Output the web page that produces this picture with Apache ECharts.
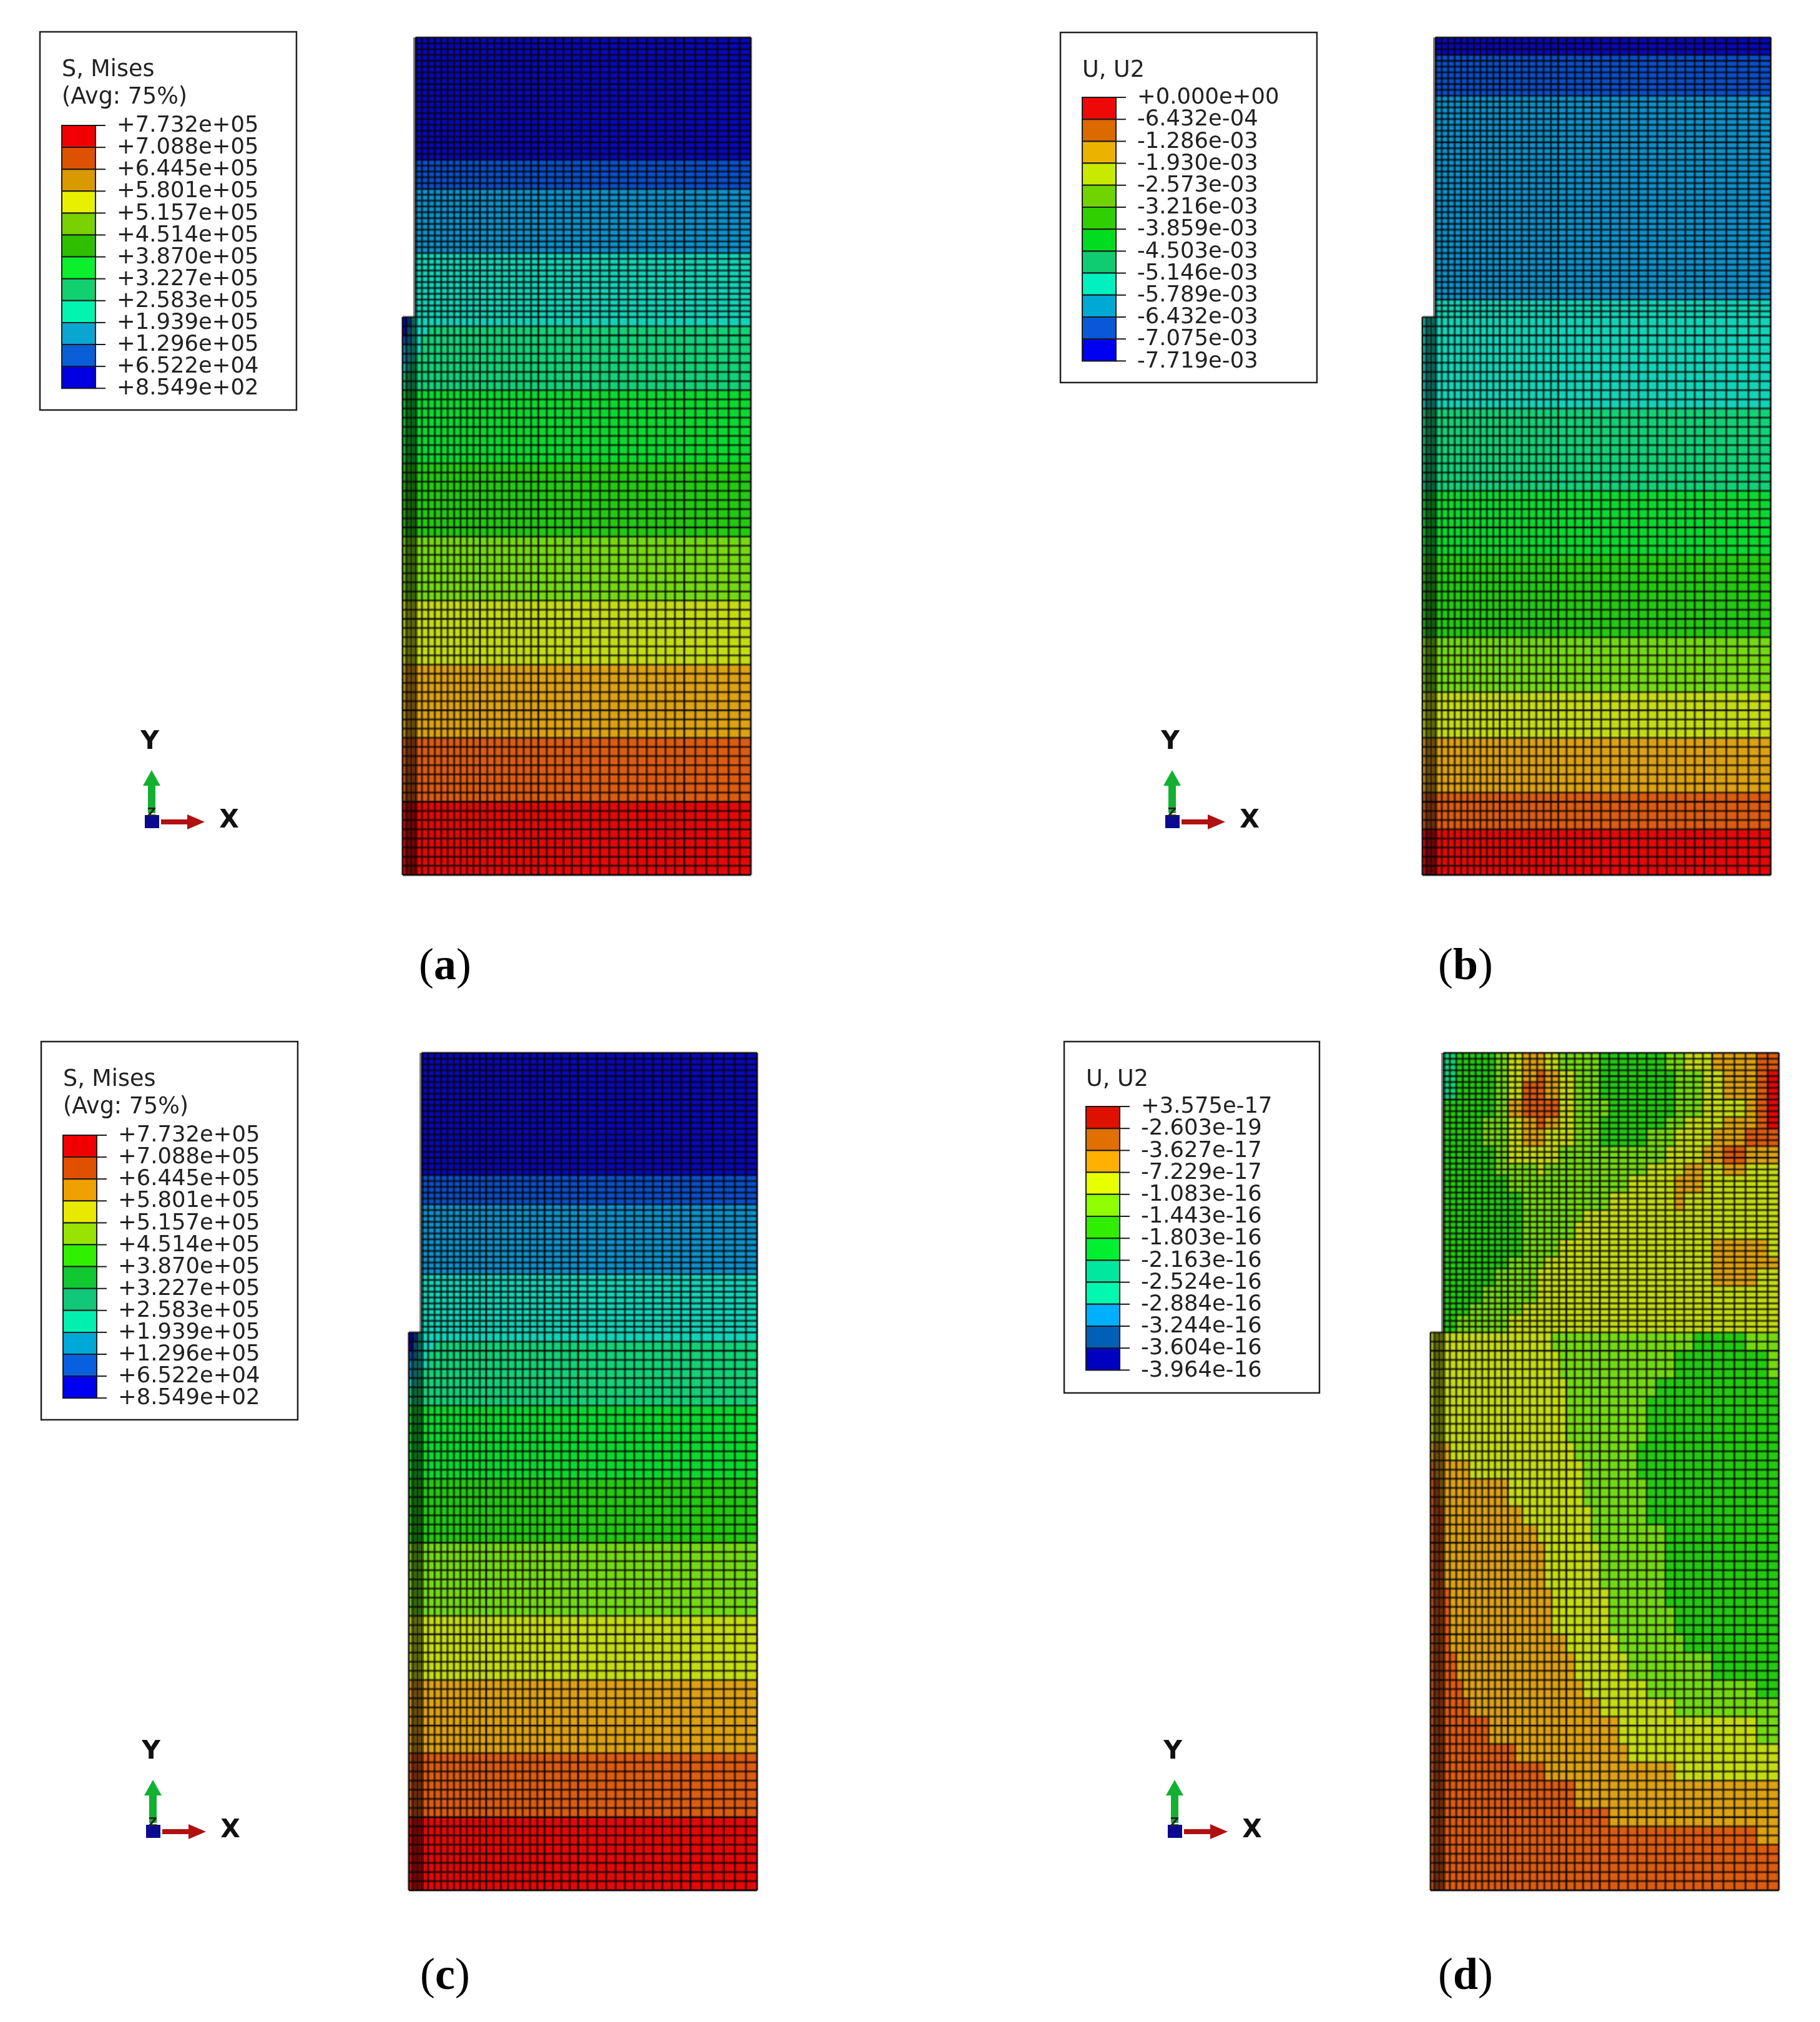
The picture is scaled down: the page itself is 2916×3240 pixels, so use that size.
<!DOCTYPE html>
<html><head><meta charset="utf-8">
<style>html,body{margin:0;padding:0;background:#fff}#c{width:2916px;height:3240px}</style>
<script src="https://cdn.jsdelivr.net/npm/echarts@6/dist/echarts.min.js"></script>
</head><body><div id="c"></div>
<script>
// ---------- legend labels (contour levels) ----------
const levelsA = ['+7.732e+05','+7.088e+05','+6.445e+05','+5.801e+05','+5.157e+05','+4.514e+05','+3.870e+05','+3.227e+05','+2.583e+05','+1.939e+05','+1.296e+05','+6.522e+04','+8.549e+02'];
const levelsB = ['+0.000e+00','-6.432e-04','-1.286e-03','-1.930e-03','-2.573e-03','-3.216e-03','-3.859e-03','-4.503e-03','-5.146e-03','-5.789e-03','-6.432e-03','-7.075e-03','-7.719e-03'];
const levelsC = levelsA;
const levelsD = ['+3.575e-17','-2.603e-19','-3.627e-17','-7.229e-17','-1.083e-16','-1.443e-16','-1.803e-16','-2.163e-16','-2.524e-16','-2.884e-16','-3.244e-16','-3.604e-16','-3.964e-16'];
// ---------- legend swatch colours, top to bottom ----------
const swatchA = ['#f00000','#dd5200','#d99a00','#e8f000','#7bd000','#2ec000','#0bf02d','#12cf70','#00f5b0','#0ba5d2','#0a5fd8','#0000e0'];
const swatchB = ['#ee0808','#dd6a00','#ecb200','#c8ea00','#70d400','#30d000','#00dc20','#10cc70','#00f0c0','#00a8d4','#0858d8','#0000f0'];
const swatchC = ['#f00000','#e05000','#f0a000','#e8e800','#98e400','#30f000','#10c830','#10c878','#00f0b0','#00a8d8','#0860e0','#0000f0'];
const swatchD = ['#e01000','#e07000','#ffb000','#e8ff00','#90ff00','#30ee00','#00f030','#00e8a0','#00f8b0','#00b0ff','#0060b8','#0000c0'];
// ---------- mesh colours (band index 0 = top of legend) ----------
const meshColors = ['#e40808','#dc5c10','#dca210','#c4dc10','#74da10','#22ca10','#08da30','#10d278','#10d4b8','#0c92cc','#0850cc','#0808bc'];
// ---------- mesh: [element count, element size] runs ----------
const colRuns = [[3,3.33],[10,5],[8,5.66],[4,6.5],[12,7.26],[6,8.6]];
const rowRuns = [[61,7.098],[48,4.52]];
const notchWidth = 10, stepHeight = 433, modelW = 270, modelH = 650;
const majorCols = [13,21,25,37];
const majorRows = [8,18,28,38,59,91,101,105];
// ---------- band tops: height above the base where each band ends ----------
const bandTopsA = [58,109,161,214,266,319,374,429,481,531,557,650];
const bandTopsB = [35.5,67,107,145,188,246,296,362,448,606,638,650];
const bandTopsC = [58,109,161,216,267,319,375,427,479,531,556,650];
// notch-corner cells of (a) and (c), rows downward from the step
const cornerBands = [[11,10,8,8,8],[11,9,8,8,8],[10,9,8,8,7],[9,8,8,8,7],[9,8,8,7,7],[8,8,7,7,7]];
// ---------- panel (d), upper block: band; 12 units per row, 10 per column, top row first ----------
const fieldDUpper = [
'75554322344455555443322211','75554321234455555544332210','75554311234455555544332210',
'55554211134445555544333210','55544321234455555443332210','55544322334455554433322111',
'55554333344444444333221222','55554443444444443332332333','55555444444444333322333333',
'55555544444443333323333333','55555544444333333333333333','55555544443333333333333333',
'55555544433333333333322223','55555444333333333333322222','55554443333333333333322233',
'55544443333333333333333333','55444433333333333333333333','54444333333333333333333333'];
// ---------- panel (d), lower block: x where the band changes along each row (16.65 units per row, top row first) ----------
// [orange-red|orange, orange|yellow, yellow|yellow-green, yellow-green|green, green|yellow-green]
const cutsDLower = [
[0,0,96,205,245],[0,0,100,190,262],[0,0,103,178,270],[0,0,106,170,270],[0,0,108,166,270],
[0,14,112,163,270],[4,30,116,163,270],[7,60,120,165,270],[9,74,123,170,270],[10,85,126,180,270],
[11,87,130,184,270],[12,90,134,184,270],[14,93,137,184,270],[15,96,141,190,270],[17,103,145,200,270],
[20,110,152,215,270],[24,120,166,250,270],[30,130,188,270,270],[45,144,250,270,270],[65,152,270,270,270],
[88,190,270,270,270],[110,270,270,270,270],[135,270,270,270,270],[250,270,270,270,270],[270,270,270,270,270],[270,270,270,270,270]];

function edges(runs){const e=[0];runs.forEach(([n,s])=>{for(let i=0;i<n;i++)e.push(e[e.length-1]+s);});return e;}
const xE = edges(colRuns), yE = edges(rowRuns);
function bandOfTops(tops,y){for(let i=0;i<tops.length;i++)if(y<=tops[i])return i;return tops.length-1;}
function stripBand(tops,corner){return (i,j,xc,yc)=>{
  if(corner){const k=Math.floor((stepHeight-yc)/7.098);
    if(k>=0&&k<corner.length&&i<corner[0].length)return corner[k][i];}
  return bandOfTops(tops,yc);};}
function fieldBand(xc,yc){
  if(yc>stepHeight){
    const r=fieldDUpper[Math.min(17,Math.floor((modelH-yc)/12.06))];
    return +r[Math.max(0,Math.min(25,Math.floor((xc-notchWidth)/10)))];
  }
  const c=cutsDLower[Math.min(25,Math.floor((stepHeight-yc)/16.65))];
  if(xc<c[0])return 1; if(xc<c[1])return 2; if(xc<c[2])return 3; if(xc<c[3])return 4; if(xc<c[4])return 5;
  return 4;
}

const panels = [
 {left:645, top:60,  levels:levelsA, swatch:swatchA, title:['S, Mises','(Avg: 75%)'], box:[64,51,411,606], band:stripBand(bandTopsA,cornerBands), triad:[0,0],   cap:'a', capX:713, capY:1550},
 {left:2279,top:60,  levels:levelsB, swatch:swatchB, title:['U, U2'], box:[1699,52,411,561], band:stripBand(bandTopsB,null), triad:[1635,0], cap:'b', capX:2348, capY:1550},
 {left:655, top:1687,levels:levelsC, swatch:swatchC, title:['S, Mises','(Avg: 75%)'], box:[66,1669,411,606], band:stripBand(bandTopsC,cornerBands), triad:[2,1618], cap:'c', capX:713, capY:3168},
 {left:2292,top:1687,levels:levelsD, swatch:swatchD, title:['U, U2'], box:[1705,1669,409,563], band:(i,j,x,y)=>fieldBand(x,y), triad:[1639,1618], cap:'d', capX:2348, capY:3168}
];

function cellData(p){const d=[];
  for(let j=0;j<yE.length-1;j++)for(let i=0;i<xE.length-1;i++){
    const xc=(xE[i]+xE[i+1])/2,yc=(yE[j]+yE[j+1])/2;
    if(xc<notchWidth&&yc>stepHeight)continue;
    d.push([xE[i],xE[i+1],yE[j],yE[j+1],p.band(i,j,xc,yc)]);}
  return d;}
function lineData(){const d=[];
  xE.forEach((x,i)=>d.push([x,0,x,x<notchWidth-.5?stepHeight:modelH,(i>=1&&i<=3)?2:(majorCols.includes(i)||i===0||i===xE.length-1)?1:0]));
  yE.forEach((y,j)=>d.push([y>stepHeight+1?notchWidth:0,y,modelW,y,(majorRows.includes(j)||j===0||j===yE.length-1)?1:0]));
  return d;}
const meshLines = lineData();

const grids=[],xAxes=[],yAxes=[],series=[];
panels.forEach((p,k)=>{
  grids.push({left:p.left,top:p.top,width:558,height:1342,show:false});
  xAxes.push({type:'value',gridIndex:k,min:0,max:modelW,show:false});
  yAxes.push({type:'value',gridIndex:k,min:0,max:modelH,show:false});
  series.push({type:'custom',xAxisIndex:k,yAxisIndex:k,silent:true,animation:false,progressive:0,clip:false,
    data:cellData(p),
    renderItem:(params,api)=>{
      const a=api.coord([api.value(0),api.value(3)]),b=api.coord([api.value(1),api.value(2)]);
      return {type:'rect',shape:{x:a[0],y:a[1],width:b[0]-a[0]+.5,height:b[1]-a[1]+.5},style:{fill:meshColors[api.value(4)]}};
    }});
  series.push({type:'custom',xAxisIndex:k,yAxisIndex:k,silent:true,animation:false,progressive:0,clip:false,
    data:meshLines,
    renderItem:(params,api)=>{
      const a=api.coord([api.value(0),api.value(1)]),b=api.coord([api.value(2),api.value(3)]),m=api.value(4);
      const s={x1:a[0],y1:a[1],x2:b[0],y2:b[1]};
      return {type:'group',children:[
        {type:'line',shape:s,style:{stroke:m===2?'rgba(10,5,5,.55)':'rgba(10,5,5,.36)',lineWidth:m===2?7:4.5,fill:null}},
        {type:'line',shape:s,style:{stroke:m===1?'rgba(5,5,5,.88)':'rgba(8,5,5,.68)',lineWidth:m===1?1.8:1.5,fill:null}}
      ]};
    }});
});

// ---------- legends, triads, captions ----------
const gfx=[];
const FONT='"DejaVu Sans", Verdana, sans-serif';
panels.forEach(p=>{
  const [bx,by,bw,bh]=p.box, two=p.title.length===2;
  gfx.push({type:'rect',silent:true,shape:{x:bx,y:by,width:bw,height:bh},style:{fill:'#fff',stroke:'#222',lineWidth:2.5}});
  p.title.forEach((t,i)=>gfx.push({type:'text',silent:true,x:bx+35,y:by+62+i*44,style:{text:t,font:'36.5px '+FONT,fill:'#222',textVerticalAlign:'middle'}}));
  const y0=by+(two?150:104), pitch=two?35.1:35.2, sx=bx+35, sw=54;
  p.swatch.forEach((c,i)=>gfx.push({type:'rect',silent:true,shape:{x:sx,y:y0+i*pitch,width:sw,height:pitch},style:{fill:c,stroke:'#1a1a1a',lineWidth:2}}));
  p.levels.forEach((t,i)=>{
    const y=y0+i*pitch;
    gfx.push({type:'line',silent:true,shape:{x1:sx+sw,y1:y,x2:sx+sw+16,y2:y},style:{stroke:'#1a1a1a',lineWidth:2}});
    gfx.push({type:'text',silent:true,x:bx+123,y:y+1,style:{text:t,font:'35.4px '+FONT,fill:'#222',textVerticalAlign:'middle'}});
  });
  // triad
  const [dx,dy]=p.triad;
  gfx.push({type:'polygon',silent:true,shape:{points:[[237,1303],[237,1259],[229,1259],[243,1234],[257,1259],[249,1259],[249,1303]].map(q=>[q[0]+dx,q[1]+dy])},style:{fill:'#14b032'}});
  gfx.push({type:'rect',silent:true,shape:{x:232+dx,y:1306+dy,width:23,height:21},style:{fill:'#0a0a90'}});
  gfx.push({type:'text',silent:true,x:243+dx,y:1303+dy,style:{text:'Z',font:'bold 20px '+FONT,fill:'#222',textAlign:'center',textVerticalAlign:'middle'}});
  gfx.push({type:'polygon',silent:true,shape:{points:[[258,1313],[300,1313],[300,1305],[328,1317],[300,1329],[300,1321],[258,1321]].map(q=>[q[0]+dx,q[1]+dy])},style:{fill:'#b01010'}});
  gfx.push({type:'text',silent:true,x:240+dx,y:1189+dy,style:{text:'Y',font:'bold 41px '+FONT,fill:'#111',textAlign:'center',textVerticalAlign:'middle'}});
  gfx.push({type:'text',silent:true,x:367+dx,y:1315+dy,style:{text:'X',font:'bold 41px '+FONT,fill:'#111',textAlign:'center',textVerticalAlign:'middle'}});
  // caption
  gfx.push({type:'text',silent:true,x:p.capX,y:p.capY,style:{
    text:'('+'{b|'+p.cap+'})',font:'72px "Liberation Serif", serif',fill:'#000',textAlign:'center',textVerticalAlign:'middle',
    rich:{b:{font:'bold 72px "Liberation Serif", serif',fill:'#000'}}}});
});

const chart=echarts.init(document.getElementById('c'),null,{renderer:'canvas'});
chart.setOption({backgroundColor:'#fff',animation:false,tooltip:{show:false},grid:grids,xAxis:xAxes,yAxis:yAxes,series:series,graphic:{elements:gfx}});
</script></body></html>
